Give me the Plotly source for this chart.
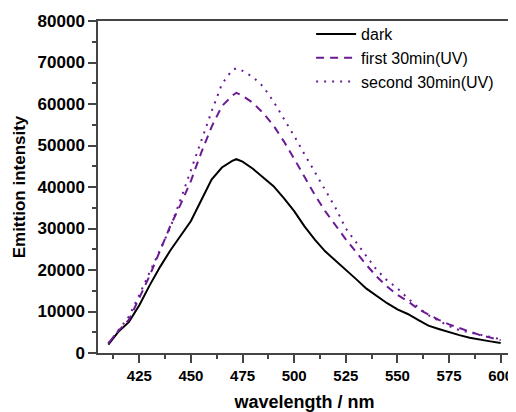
import plotly.graph_objects as go

wavelength = [410, 415, 420, 425, 430, 435, 440, 445, 450, 455, 460, 465, 470, 472,
              475, 480, 485, 490, 495, 500, 505, 510, 515, 520, 525, 530, 535, 540,
              545, 550, 555, 560, 565, 570, 575, 580, 585, 590, 595, 600]

dark = [2000, 5200, 7500, 11500, 16300, 20700, 24700, 28200, 31800, 36800, 41800, 44700,
        46300, 46700, 46100, 44400, 42400, 40200, 37300, 34200, 30500, 27300, 24500, 22300,
        20200, 17800, 15500, 13700, 12000, 10500, 9400, 8000, 6600, 5800, 5000, 4300, 3700,
        3200, 2800, 2400]

first_uv = [2300, 5400, 8000, 13400, 18600, 24600, 30600, 35800, 41500, 48300, 54500, 59500,
            62000, 62700, 62000, 60300, 57800, 54800, 51000, 46800, 42500, 38100, 34200, 30700,
            27400, 24300, 21200, 18400, 16000, 14000, 12500, 10600, 9200, 8000, 6900, 6000,
            5100, 4300, 3700, 3100]

second_uv = [2300, 5600, 8800, 14000, 19500, 25000, 30200, 37000, 44000, 51500, 58200, 64800,
             68200, 68600, 68000, 66500, 64200, 60600, 56600, 52300, 47900, 43500, 39300, 35000,
             30000, 26700, 23300, 20000, 17500, 15600, 13200, 11000, 9100, 7700, 6500, 5500,
             4900, 4400, 3900, 3300]

names = ["dark", "first 30min(UV)", "second 30min(UV)"]

FONT = "Liberation Sans, Arial, sans-serif"
PURPLE = "#6a1a94"

fig = go.Figure()
fig.add_trace(go.Scatter(x=wavelength, y=dark, mode="lines", name=names[0],
                         line=dict(color="black", width=2)))
fig.add_trace(go.Scatter(x=wavelength, y=first_uv, mode="lines", name=names[1],
                         line=dict(color=PURPLE, width=2, dash="8px,6px")))
fig.add_trace(go.Scatter(x=wavelength, y=second_uv, mode="lines", name=names[2],
                         line=dict(color=PURPLE, width=2, dash="2px,6px")))

axis_common = dict(showline=True, linecolor="#444", linewidth=1.5, mirror=True,
                   ticks="outside", tickcolor="#444", tickwidth=1.5, ticklen=8,
                   showgrid=False, zeroline=False, automargin=False)

fig.update_xaxes(range=[405, 605], tick0=400, dtick=25,
                 minor=dict(ticks="outside", dtick=12.5, tick0=400, ticklen=4,
                            tickcolor="#444", tickwidth=1.5, showgrid=False),
                 tickfont=dict(family=FONT, size=15, color="black", weight="bold"),
                 title=dict(text="wavelength / nm", standoff=14,
                            font=dict(family=FONT, size=18, color="black", weight="bold")),
                 **axis_common)
fig.update_yaxes(range=[0, 80000], tick0=0, dtick=10000, tickformat="d",
                 minor=dict(ticks="outside", dtick=5000, ticklen=4,
                            tickcolor="#444", tickwidth=1.5, showgrid=False),
                 tickfont=dict(family=FONT, size=17, color="black", weight="bold"),
                 title=dict(text="Emittion intensity", standoff=8,
                            font=dict(family=FONT, size=17, color="black", weight="bold")),
                 **axis_common)

# page body has an 8px default margin, so the figure is 8px smaller and shifted
fig.update_layout(
    width=508, height=404,
    margin=dict(l=90, r=5, t=13, b=59),
    paper_bgcolor="white", plot_bgcolor="white",
    showlegend=True,
    legend=dict(x=0.516, y=1.012, xanchor="left", yanchor="top",
                bgcolor="rgba(0,0,0,0)", borderwidth=0,
                font=dict(family=FONT, size=16, color="black"),
                tracegroupgap=0, itemwidth=40),
)

fig.write_html("out.html")
